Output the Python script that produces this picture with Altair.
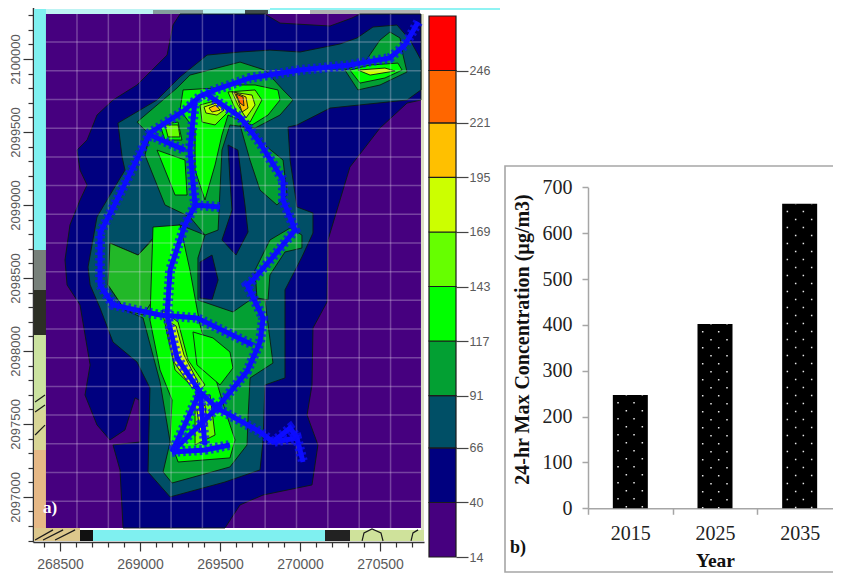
import altair as alt
import pandas as pd

# ---------- panel b: bar chart values ----------
YEARS = ["2015", "2025", "2035"]
MAX_CONC = [247, 402, 664]

# ---------- panel a: colour bar ----------
LEVELS = [14, 40, 66, 91, 117, 143, 169, 195, 221, 246, 272]
LEVEL_LABELS = [14, 40, 66, 91, 117, 143, 169, 195, 221, 246]
PALETTE = ["#46007f", "#00007f", "#004f66", "#03a033", "#00ff00",
           "#66ff00", "#ccff00", "#ffc000", "#ff6600", "#ff0000"]
SOFT_GREEN = "#22b828"

# ---------- panel a: map coordinates, metres from these bases ----------
E_BASE = 268000
N_BASE = 2097000

CONTOURS = [
    # colour, eastings, northings (painted in this order)
    (1, [1250,1781,1875,2188,2325,2375,2756,2756,2669,2500,2312,2175,2169,2081,2075,2044,2112,2075,1769,1625,1531,894,875,831,1000,994,969,906,812,731,656,688,625,544,531,562,625,669,625,606,669,731,831,981,1169,1206],
        [3308,3308,3246,3226,3281,3308,3308,2719,2698,2527,2260,1760,1335,1157,767,561,356,82,13,-55,-213,-213,184,356,376,664,678,459,390,493,698,904,1315,1452,1623,1863,2034,2137,2239,2376,2445,2616,2719,2822,3027,3233]),
    (2, [1419,1625,1812,2000,2250,2356,2456,2606,2688,2756,2756,2669,2188,1981,1925,1938,1981,2081,2081,2012,1906,1906,1781,1769,1750,1531,1188,1050,1062,981,831,750,688,675,731,812,906,888,862,1106,1250],
        [3027,3048,3061,3048,3103,3144,3219,3233,3130,2993,2788,2719,2664,2548,2534,2308,1986,1945,1808,1644,1418,815,767,390,185,102,0,171,746,924,1061,1294,1452,1575,1918,2068,2239,2328,2561,2719,2877]),
    (3, [981,1231,1312,1625,1781,1894,1956,1875,1719,1562,1512,1488,1406,1312,1156,1031,1062],
        [2568,2801,2890,2979,2924,2788,2719,2616,2527,2548,2376,1828,1794,1918,2000,2342,2479]),
    (3, [1625,1894,1919,1856,1750,1687],
        [2548,2308,2068,2000,2102,2308]),
    (3, [812,988,1125,1250,1406,1362,1362,1581,1688,1781,1831,1688,1675,1669,1562,1200,1144,1188,1125,1019,906,800],
        [1739,1657,1828,1863,1794,1637,1349,1267,1349,1349,917,815,541,356,205,95,171,376,787,1226,1280,1452]),
    (SOFT_GREEN, [812,988,1125,1081,1019,906,800],
        [1739,1657,1815,1349,1246,1280,1452]),
    (3, [1938,2012,2012,1906,1812,1800,1731,1719,1812],
        [1842,1794,1705,1678,1520,1349,1363,1554,1760]),
    (3, [2281,2406,2500,2562,2625,2644,2669,2500,2362],
        [2924,2979,3130,3185,3144,3027,2911,2822,2788]),
    (1, [1550,1612,1656,1675,1600,1512,1575,1562],
        [2411,2376,2000,1815,1657,1760,1966,2171]),
    (1, [1375,1450,1488,1450,1375],
        [1609,1657,1486,1349,1363]),
    (4, [1269,1469,1562,1719,1862,1875,1800,1700,1625,1550,1512,1469,1406,1344,1344,1250],
        [2788,2801,2822,2822,2788,2719,2616,2548,2582,2616,2479,2274,2034,2239,2514,2650]),
    (4, [1106,1281,1294,1219],
        [2376,2308,2068,2068]),
    (4, [1125,1238,1262,1156],
        [2548,2568,2445,2445]),
    (4, [1081,1250,1312,1375,1438,1531,1594,1562,1238,1188,1200,1125,1062],
        [1849,1863,1554,1178,938,596,390,267,239,390,664,870,1212]),
    (4, [1331,1456,1562,1581,1500,1356],
        [1130,1089,993,883,767,904]),
    (4, [2312,2438,2612,2638,2531,2375],
        [2924,2959,2972,2924,2870,2835]),
    (5, [1550,1719,1762,1688,1625],
        [2774,2788,2719,2568,2582]),
    (5, [1375,1488,1550,1469,1388],
        [2685,2719,2637,2548,2568]),
    (5, [1138,1238,1300,1406,1362,1219],
        [1280,1198,938,767,719,870]),
    (5, [1344,1438,1469,1344],
        [698,698,424,356]),
    (5, [1156,1238,1250,1175],
        [2548,2548,2466,2466]),
    (6, [1575,1700,1719,1662,1612],
        [2774,2753,2685,2596,2685]),
    (6, [1400,1475,1525,1481,1412],
        [2671,2698,2650,2616,2630]),
    (6, [1162,1225,1275,1362,1325,1212],
        [1212,1171,972,787,746,924]),
    (6, [1356,1406,1419,1375],
        [595,630,493,445]),
    (6, [2362,2531,2594,2438],
        [2924,2938,2918,2890]),
    (7, [1588,1662,1675,1638,1612],
        [2774,2740,2664,2637,2719]),
    (7, [1431,1475,1500,1450],
        [2664,2685,2650,2637]),
    (8, [1600,1644,1650,1625],
        [2760,2740,2678,2698]),
]

ROADS = [
    ([2738,2656,2562,2312,2000,1688,1469,1375,1281,1062,856,750,750,831,1125,1356,1706],
     [3253,3096,3007,2959,2924,2870,2788,2746,2650,2493,2034,1808,1452,1315,1246,1226,1041]),
    ([1062,1281], [2479,2376]),
    ([1344,1312,1344,1281,1188,1169,1188,1231,1375,1481,1750,1831,1981,2019],
     [2719,2376,2000,1863,1554,1246,1157,952,719,609,445,376,404,239]),
    ([1344,1500], [2000,1986]),
    ([1831,1938,1981], [376,472,404]),
    ([1406,1625,1750,1894,1894,1969,1831,1706,1669,1769,1750,1669,1481,1200],
     [2767,2603,2424,2171,2034,1828,1644,1486,1452,1226,1061,860,609,308]),
    ([1375,1200], [719,308]),
    ([1200,1406,1562], [308,322,356]),
    ([1375,1406], [719,356]),
]

# terrain fragments outside the modelled area
TERRAIN = [
    ([2388,2400,2450,2506,2519], [-302,-247,-220,-247,-302]),
    ([2694,2706,2738], [-302,-247,-226]),
    ([344,406], [650,698]),
    ([344,406], [582,630]),
    ([344,406], [424,492]),
    ([344,456], [-295,-226]),
    ([394,519], [-295,-226]),
    ([469,594], [-295,-226]),
]

GRID_E = [606,802,998,1194,1390,1586,1782,1978,2174,2370,2566]
GRID_N = [3116,2919,2722,2526,2329,2133,1936,1740,1543,1347,1150,954,757,561,364,168,-29]
MAP_W, MAP_E, MAP_S, MAP_N = 412, 2756, -213, 3308

X_TICKS = list(range(268400, 270800, 100))
Y_TICKS = list(range(2096700, 2100400, 100))

SERIF = "Liberation Serif"
SANS = "Liberation Sans"
W, H = 825, 565

# ---------- shared map scales ----------
sx = alt.Scale(domain=[268331, 270775], range=[25, 416], nice=False, zero=False)
sy = alt.Scale(domain=[2096691, 2100370], range=[534, -3], nice=False, zero=False)
X = lambda ax=None: alt.X("e:Q", scale=sx, axis=ax)
Y = lambda ax=None: alt.Y("n:Q", scale=sy, axis=ax)


def path_df(es, ns, close=False):
    es, ns = list(es), list(ns)
    if close:
        es, ns = es + es[:1], ns + ns[:1]
    return pd.DataFrame({"e": [E_BASE + v for v in es],
                         "n": [N_BASE + v for v in ns],
                         "i": range(len(es))})


def box(x0, y0, x1, y1, color, **kw):
    return alt.Chart(pd.DataFrame({"a": [0]})).mark_rect(color=color, **kw).encode(
        x=alt.value(x0 - 8), x2=alt.value(x1 - 8),
        y=alt.value(y0 - 8), y2=alt.value(y1 - 8))


# ---------- chrome behind and around the map ----------
chrome = [
    box(34, 9, 46, 250, "#7ff0f0"),
    box(46, 9, 270, 14, "#bdf3f3"),
    box(270, 8, 500, 10, "#8ff3f3"),
    box(34, 250, 46, 290, "#77807a"),
    box(34, 290, 46, 335, "#2c2f25"),
    box(34, 335, 46, 410, "#cbe2a0"),
    box(34, 410, 46, 450, "#d8d596"),
    box(34, 450, 46, 528, "#e6b886"),
    box(34, 528, 80, 541, "#dcc78c"),
    box(80, 530, 93, 541, "#111111"),
    box(93, 530, 325, 541, "#7ff0f0"),
    box(325, 530, 350, 541, "#222222"),
    box(350, 530, 424, 541, "#cfe29b"),
    box(421, 14, 424, 530, "#dcdfc6"),
    box(153, 10, 203, 14, "#555555", opacity=0.55),
    box(245, 10, 268, 14, "#222222", opacity=0.8),
    box(310, 10, 420, 14, "#666666", opacity=0.5),
]

# ---------- map ----------
bg = pd.DataFrame({"e": [E_BASE + MAP_W], "e2": [E_BASE + MAP_E],
                   "n": [N_BASE + MAP_S], "n2": [N_BASE + MAP_N]})
map_layers = [alt.Chart(bg).mark_rect(color=PALETTE[0]).encode(
    x=X(), x2="e2:Q", y=Y(), y2="n2:Q")]

for es, ns in TERRAIN:
    map_layers.append(alt.Chart(path_df(es, ns)).mark_line(color="#1a1a1a", strokeWidth=1.2)
                      .encode(x=X(), y=Y(), order="i:Q"))

for level, es, ns in CONTOURS:
    fill = PALETTE[level] if isinstance(level, int) else level
    map_layers.append(
        alt.Chart(path_df(es, ns, close=True))
        .mark_line(fill=fill, stroke="#0b1a12", strokeWidth=0.9)
        .encode(x=X(), y=Y(), order="i:Q"))

grid_v = pd.DataFrame({"e": [E_BASE + v for v in GRID_E]})
grid_v["n"], grid_v["n2"] = N_BASE + MAP_S, N_BASE + MAP_N
grid_h = pd.DataFrame({"n": [N_BASE + v for v in GRID_N]})
grid_h["e"], grid_h["e2"] = E_BASE + MAP_W, E_BASE + MAP_E
map_layers.append(alt.Chart(grid_v).mark_rule(color="#e8dcf0", opacity=0.3, strokeWidth=1.5)
                  .encode(x=X(), y=Y(), y2="n2:Q"))
map_layers.append(alt.Chart(grid_h).mark_rule(color="#e8dcf0", opacity=0.3, strokeWidth=1.5)
                  .encode(y=Y(), x=X(), x2="e2:Q"))

for es, ns in ROADS:
    d = path_df(es, ns)
    map_layers.append(alt.Chart(d).mark_line(color="#0c0cff", strokeWidth=5)
                      .encode(x=X(), y=Y(), order="i:Q"))
    map_layers.append(alt.Chart(d).mark_line(color="#0c0cff", strokeWidth=10, strokeDash=[2.5, 3], opacity=0.75)
                      .encode(x=X(), y=Y(), order="i:Q"))

# map axes: one axis each way, every 100 m, long ticks and labels at 500 m
x_axis = alt.Axis(values=X_TICKS, orient="bottom", offset=-31, title=None, grid=False,
                  format="d", labelOverlap=False, labelFlush=False,
                  labelExpr="datum.value % 500 === 0 ? datum.label : ''",
                  tickSize={"condition": {"test": "datum.value % 500 === 0", "value": 9}, "value": 5},
                  domainColor="#333333", tickColor="#333333", domainWidth=1.5, tickWidth=1.2,
                  labelFont=SANS, labelFontSize=14, labelColor="#5a5a5a", labelPadding=6)
y_axis = alt.Axis(values=Y_TICKS, orient="left", offset=-25, title=None, grid=False,
                  format="d", labelOverlap=False, labelFlush=False, labelAngle=270,
                  labelAlign="center", labelBaseline="bottom",
                  labelExpr="datum.value % 500 === 0 ? datum.label : ''",
                  tickSize={"condition": {"test": "datum.value % 500 === 0", "value": 10}, "value": 5},
                  domainColor="#333333", tickColor="#333333", domainWidth=1.5, tickWidth=1.2,
                  labelFont=SANS, labelFontSize=13, labelColor="#5a5a5a", labelPadding=1)
map_layers.append(alt.Chart(path_df([MAP_W], [MAP_S])).mark_point(opacity=0)
                  .encode(x=X(x_axis), y=Y(y_axis)))

a_label = alt.Chart(path_df([438], [-76])).mark_text(
    text="a)", color="#ffffff", font=SERIF, fontWeight="bold", fontSize=17
).encode(x=X(), y=Y())
map_layers.append(a_label)

map_panel = alt.layer(*map_layers).resolve_axis(x="independent", y="independent")

# ---------- colour bar ----------
cb = pd.DataFrame({"lo": LEVELS[:-1], "hi": LEVELS[1:], "c": PALETTE})
cb_scale = alt.Scale(domain=[14, 272], range=[549, 8], nice=False, zero=False)
cb_x = alt.Scale(domain=[0, 1], range=[421, 448])
cb_panel = alt.Chart(cb.assign(x0=0, x1=1)).mark_rect(stroke="#1c1c1c", strokeWidth=1.2).encode(
    x=alt.X("x0:Q", scale=cb_x, axis=None), x2="x1:Q",
    y=alt.Y("lo:Q", scale=cb_scale,
            axis=alt.Axis(values=LEVEL_LABELS, orient="right", offset=448 - W, title=None,
                          grid=False, domain=False, tickSize=12, tickColor="#444444", tickWidth=1.2,
                          labelFont=SANS, labelFontSize=12.5, labelColor="#5a5a5a", labelPadding=1,
                          labelOverlap=False, labelFlush=False, format="d")),
    y2="hi:Q",
    fill=alt.Fill("c:N", scale=None))

# ---------- bars ----------
bars = pd.DataFrame({"year": YEARS, "conc": MAX_CONC})
bar_x = alt.Scale(domain=YEARS, range=[580, 834], paddingInner=0, paddingOuter=0)
bar_y = alt.Scale(domain=[0, 700], range=[500.3, 179.3], nice=False)
GREY = "#a6a6a6"
bx_axis = alt.Axis(orient="bottom", offset=-64.7, title="Year", labelAngle=0, tickBand="extent",
                   grid=False, domainColor=GREY, tickColor=GREY, domainWidth=1.5, tickWidth=1.5,
                   tickSize=6, labelFont=SERIF, labelFontSize=20, labelColor="#222222",
                   labelPadding=9, titleFont=SERIF, titleFontSize=19.5, titleFontWeight="bold",
                   titleColor="#111111", titlePadding=8)
by_axis = alt.Axis(orient="left", offset=-580, values=list(range(0, 701, 100)),
                   title="24-hr Max Concentration (µg/m3)", grid=False, domainColor=GREY,
                   tickColor=GREY, domainWidth=1.5, tickWidth=1.5, tickSize=6, labelFont=SERIF,
                   labelFontSize=20, labelColor="#222222", labelPadding=10, labelFlush=False,
                   titleFont=SERIF, titleFontSize=20, titleFontWeight="bold", titleColor="#111111",
                   titleAngle=270, titleX=-56, titleY=331)
bar_layers = [alt.Chart(bars).mark_bar(color="#000000", width=35).encode(
    x=alt.X("year:N", scale=bar_x, axis=bx_axis, sort=YEARS),
    y=alt.Y("conc:Q", scale=bar_y, axis=by_axis))]
# white dot pattern: dashed rules inside each bar
for off, dash_off in [(-12.3, 9), (-4, 1), (3.7, 9), (12, 1)]:
    bar_layers.append(alt.Chart(bars).mark_rule(
        color="#e6e6e6", strokeWidth=1.5, strokeDash=[1.5, 14.5],
        strokeDashOffset=dash_off, xOffset=off).encode(
        x=alt.X("year:N", scale=bar_x, axis=None, sort=YEARS),
        y=alt.Y("conc:Q", scale=bar_y, axis=None),
        y2=alt.Y2(datum=0)))
bar_panel = alt.layer(*bar_layers).resolve_axis(x="independent", y="independent")

# ---------- frame of panel b ----------
frame = box(505, 166, 845, 572, "transparent", stroke="#a6a6a6", strokeWidth=1.6)
b_label = alt.Chart(pd.DataFrame({"a": [0]})).mark_text(
    text="b)", color="#111111", font=SERIF, fontWeight="bold", fontSize=18
).encode(x=alt.value(510), y=alt.value(540))

chart = alt.layer(*chrome, map_panel, cb_panel, frame, bar_panel, b_label).resolve_scale(
    x="independent", y="independent", fill="independent"
).properties(width=W, height=H, padding=0, autosize=alt.AutoSizeParams(type="none"),
             background="#ffffff").configure_view(stroke=None)

chart.save("out.html", embed_options={"renderer": "svg", "actions": False})
